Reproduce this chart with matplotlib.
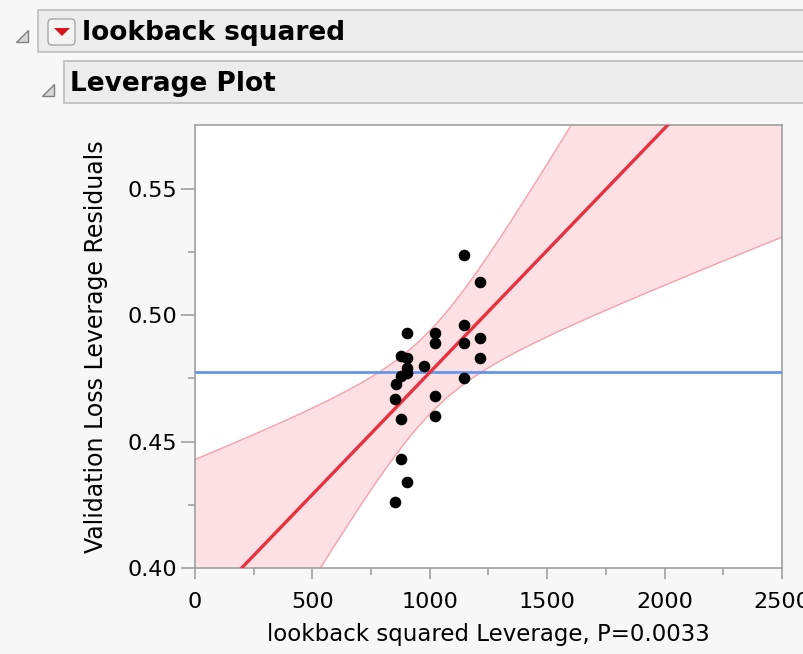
import numpy as np
import matplotlib.pyplot as plt
from matplotlib.patches import Rectangle, Polygon, FancyBboxPatch

# leverage points
lev_x = [1145, 1214, 904, 1023, 1023, 1145, 1145, 1214, 1214, 879, 904, 977,
         904, 904, 879, 857, 853, 1023, 1145, 879, 1023, 879, 904, 853]
lev_y = [0.524, 0.513, 0.493, 0.493, 0.489, 0.496, 0.489, 0.491, 0.483, 0.484,
         0.483, 0.480, 0.479, 0.477, 0.476, 0.473, 0.467, 0.468, 0.475, 0.459,
         0.460, 0.443, 0.434, 0.426]

# fit and confidence curve
mean_y = 0.4774
mean_x = 1000.0
slope = 9.66e-5
band_a = 0.0165
band_b = 5.99e-5

x_ticks = [0, 500, 1000, 1500, 2000, 2500]
y_ticks = [0.40, 0.45, 0.50, 0.55]

W, H = 804, 654
fig = plt.figure(figsize=(W / 100, H / 100), dpi=100)
fig.patch.set_facecolor("#f7f7f7")

# background layer in pixel coordinates for the header bars
bg = fig.add_axes([0, 0, 1, 1], zorder=-1)
bg.set_xlim(0, W)
bg.set_ylim(H, 0)
bg.axis("off")

bg.add_patch(Rectangle((38, 10), 800, 42, fc="#ececec", ec="#bdbdbd", lw=1.2))
bg.add_patch(Rectangle((64, 61), 800, 42, fc="#ececec", ec="#bdbdbd", lw=1.2))
bg.add_patch(Polygon([(28, 30), (28, 42), (16, 42)], closed=True,
                     fc="#d8d8d8", ec="#808080", lw=1))
bg.add_patch(Polygon([(54, 84), (54, 96), (42, 96)], closed=True,
                     fc="#d8d8d8", ec="#808080", lw=1))
bg.add_patch(FancyBboxPatch((48, 19), 27, 26, boxstyle="round,pad=0,rounding_size=4",
                            fc="#f4f4f4", ec="#a8a8a8", lw=1))
bg.add_patch(Polygon([(54, 28), (70, 28), (62, 36)], closed=True,
                     fc="#d9131e", ec="none"))
bg.text(82, 33, "lookback squared", fontsize=19, fontweight="bold",
        family="DejaVu Sans", va="center", ha="left", color="black")
bg.text(70, 84, "Leverage Plot", fontsize=19, fontweight="bold",
        family="DejaVu Sans", va="center", ha="left", color="black")

ax = fig.add_axes([195 / W, 1 - 568 / H, (782 - 195) / W, (568 - 125) / H])
ax.set_facecolor("white")

xs = np.linspace(0, 2500, 400)
fit = mean_y + slope * (xs - mean_x)
half = np.sqrt(band_a ** 2 + (band_b * (xs - mean_x)) ** 2)
ax.fill_between(xs, fit - half, fit + half, color="#fde0e4", lw=0, zorder=1)
ax.plot(xs, fit - half, color="#f7a0aa", lw=1, zorder=2)
ax.plot(xs, fit + half, color="#f7a0aa", lw=1, zorder=2)
ax.axhline(mean_y, color="#6495ed", lw=2, zorder=3)
ax.plot(xs, fit, color="#e8313e", lw=2.4, zorder=4)
ax.scatter(lev_x, lev_y, s=70, color="black", zorder=5, linewidths=0)

ax.set_xlim(0, 2500)
ax.set_ylim(0.40, 0.5753)
ax.set_xticks(x_ticks)
ax.set_xticklabels([str(t) for t in x_ticks])
ax.set_xticks([250, 750, 1250, 1750, 2250], minor=True)
ax.set_yticks(y_ticks)
ax.set_yticklabels(["%.2f" % t for t in y_ticks])
ax.set_yticks([0.425, 0.475, 0.525], minor=True)

for s in ax.spines.values():
    s.set_color("#a0a0a0")
    s.set_linewidth(1.2)
ax.tick_params(which="major", width=1.2, color="#a0a0a0", labelsize=16)
ax.tick_params(axis="x", which="major", length=8, pad=9)
ax.tick_params(axis="y", which="major", length=10, pad=3)
ax.tick_params(which="minor", length=5, width=1.2, color="#a0a0a0")
for lab in ax.get_xticklabels() + ax.get_yticklabels():
    lab.set_family("DejaVu Sans")

ax.set_xlabel("lookback squared Leverage, P=0.0033", fontsize=16.5,
              family="DejaVu Sans", labelpad=8)
ax.set_ylabel("Validation Loss Leverage Residuals", fontsize=17,
              family="DejaVu Sans", labelpad=14)

fig.savefig("out.png", dpi=100, facecolor=fig.get_facecolor())
